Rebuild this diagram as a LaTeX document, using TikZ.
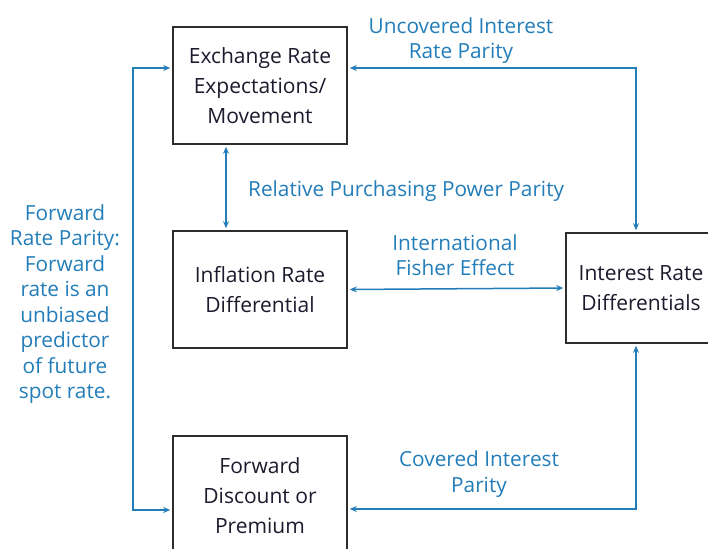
\documentclass[tikz,border=0pt]{standalone}
\usepackage{fontspec}
\setmainfont{Open Sans}
\usetikzlibrary{arrows.meta}
\definecolor{blu}{RGB}{35,125,185}
\definecolor{boxline}{RGB}{45,45,45}
\definecolor{boxtext}{RGB}{30,25,45}
\begin{document}
\begin{tikzpicture}[x=1pt,y=-1pt,
  box/.style={draw=boxline,line width=1.6pt,fill=white,align=center,text=boxtext,
    font=\fontsize{21}{30}\selectfont,inner sep=0pt},
  lbl/.style={text=blu,align=center,font=\fontsize{20.8}{25.5}\selectfont,inner sep=0pt},
  arr/.style={draw=blu,line width=1.5pt,{Stealth[length=7pt,width=6pt]}-{Stealth[length=7pt,width=6pt]},shorten <=2pt,shorten >=2pt}]
\useasboundingbox (0,0) rectangle (708,548);
\node[box,minimum width=174pt,minimum height=117pt] (ex) at (260,85.5) {Exchange Rate\\Expectations/\\Movement};
\node[box,minimum width=174pt,minimum height=117pt] (inf) at (260,289.5) {Inflation Rate\\Differential};
\node[box,minimum width=150pt,minimum height=110pt] (ir) at (641,288) {Interest Rate\\Differentials};
\node[box,minimum width=174pt,minimum height=120pt] (fw) at (260,496) {Forward\\Discount or\\Premium};

\coordinate (u1) at (636,68);
\coordinate (v1) at (226,0);
\coordinate (c1) at (636,509);
\coordinate (l1) at (133,68);
\coordinate (l2) at (133,510);

\draw[arr] (ex.east |- u1) -- (u1) -- (ir.north -| u1);
\draw[arr] (ex.south -| v1) -- (inf.north -| v1);
\draw[arr] (inf.east) -- (ir.west);
\draw[arr] (ir.south -| c1) -- (c1) -- (fw.east |- c1);
\draw[arr] (ex.west |- l1) -- (l1) -- (l2) -- (fw.west |- l2);

\node[lbl] (t1) at (461,40.5) {Uncovered Interest\\Rate Parity};
\node[lbl,anchor=west] (t2) at (248,191.5) {Relative Purchasing Power Parity};
\node[lbl] (t3) at (455,255) {International\\Fisher Effect};
\node[lbl] (t4) at (479,474) {Covered Interest\\Parity};
\node[lbl] (t5) at (65,304) {Forward\\Rate Parity:\\Forward\\rate is an\\unbiased\\predictor\\of future\\spot rate.};
\end{tikzpicture}
\end{document}
